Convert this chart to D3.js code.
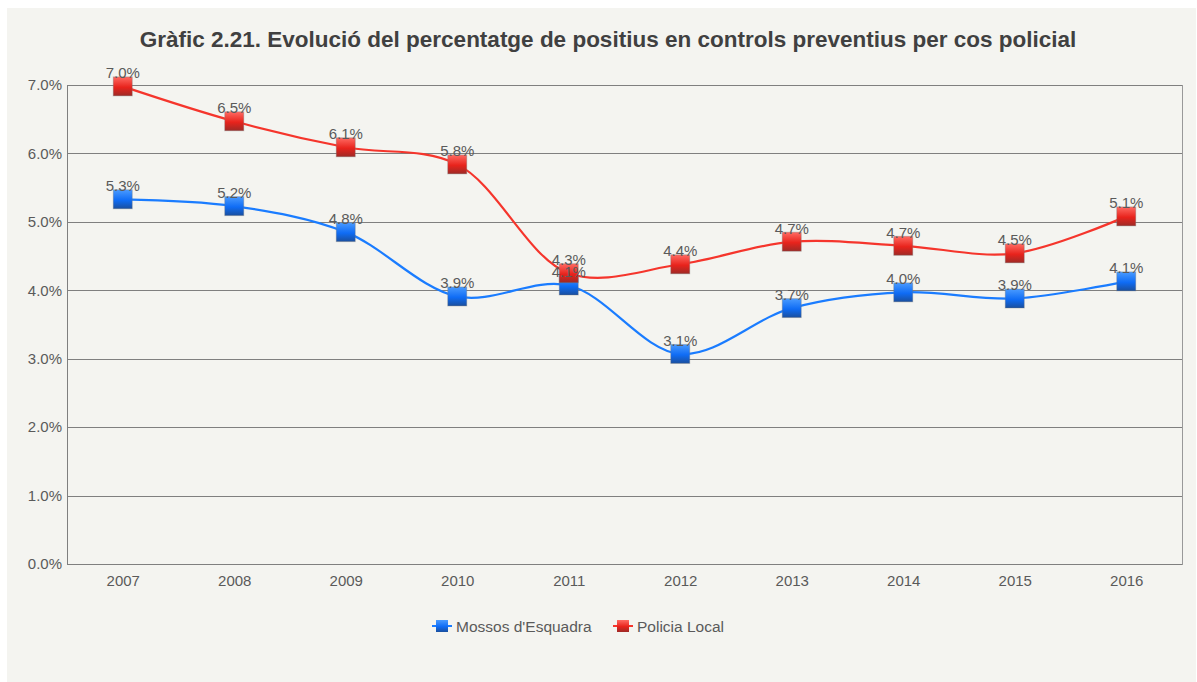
<!DOCTYPE html>
<html lang="en">
<head>
    <meta charset="UTF-8">
    <title>Gràfic 2.21</title>
    <script src="https://d3js.org/d3.v7.min.js"></script>
    <style>
        body { margin: 0; background: #fff; }
        svg { display: block; font-family: 'Liberation Sans', Arial, sans-serif; }
    </style>
</head>
<body>
    <div id="chart"></div>
    <script>
        // data
        var years = ['2007', '2008', '2009', '2010', '2011', '2012', '2013', '2014', '2015', '2016'];
        var mossos = [5.33, 5.23, 4.85, 3.91, 4.07, 3.07, 3.74, 3.97, 3.88, 4.13];
        var policia = [6.98, 6.47, 6.09, 5.84, 4.25, 4.38, 4.71, 4.65, 4.54, 5.08];
        var yTicks = [0, 1, 2, 3, 4, 5, 6, 7];
        var seriesNames = ["Mossos d'Esquadra", 'Policia Local'];

        var width = 1197, height = 682;
        var plotLeft = 67, plotRight = 1182, plotTop = 85, plotBottom = 564;

        var svg = d3.select('#chart').append('svg')
            .attr('width', width)
            .attr('height', height);

        // gradients for the square markers
        var defs = svg.append('defs');
        var grads = [
            { id: 'gBlue', light: '#4a9bff', mid: '#0f6cf5', dark: '#1a4f9e' },
            { id: 'gRed', light: '#ff6b63', mid: '#e8231c', dark: '#9e2a26' }
        ];
        grads.forEach(function (g) {
            var lg = defs.append('linearGradient').attr('id', g.id)
                .attr('x1', 0).attr('y1', 0).attr('x2', 0).attr('y2', 1);
            lg.append('stop').attr('offset', '0%').attr('stop-color', g.light);
            lg.append('stop').attr('offset', '55%').attr('stop-color', g.mid);
            lg.append('stop').attr('offset', '100%').attr('stop-color', g.dark);
        });

        // panel
        svg.append('rect')
            .attr('x', 7).attr('y', 8)
            .attr('width', 1189).attr('height', 674)
            .attr('fill', '#f4f4f0');

        svg.append('text')
            .attr('x', 608).attr('y', 47)
            .attr('text-anchor', 'middle')
            .style('font-size', '22.5px')
            .style('font-weight', 'bold')
            .attr('fill', '#404040')
            .text('Gràfic 2.21. Evolució del percentatge de positius en controls preventius per cos policial');

        var x = d3.scalePoint().domain(years).range([plotLeft, plotRight]).padding(0.5);
        var y = d3.scaleLinear().domain([0, 7]).range([plotBottom, plotTop]);

        // grid lines
        svg.append('g').selectAll('line')
            .data(yTicks)
            .enter().append('line')
            .attr('x1', plotLeft).attr('x2', plotRight)
            .attr('y1', function (d) { return Math.round(y(d)) + 0.5; })
            .attr('y2', function (d) { return Math.round(y(d)) + 0.5; })
            .attr('stroke', '#7f7f7f')
            .attr('stroke-width', 1);

        // frame sides
        svg.append('line')
            .attr('x1', plotLeft + 0.5).attr('x2', plotLeft + 0.5)
            .attr('y1', plotTop).attr('y2', plotBottom + 1)
            .attr('stroke', '#7f7f7f');
        svg.append('line')
            .attr('x1', plotRight + 0.5).attr('x2', plotRight + 0.5)
            .attr('y1', plotTop).attr('y2', plotBottom + 1)
            .attr('stroke', '#999');

        // axes
        var yAxis = d3.axisLeft(y).tickValues(yTicks).tickSize(0).tickPadding(5)
            .tickFormat(function (d) { return d.toFixed(1) + '%'; });
        var gy = svg.append('g').attr('transform', 'translate(' + plotLeft + ',0)').call(yAxis);
        gy.select('.domain').remove();
        gy.selectAll('text').style('font-size', '15px').attr('fill', '#5a5a5a')
            .style('font-family', "'Liberation Sans', Arial, sans-serif");

        var xAxis = d3.axisBottom(x).tickSize(0).tickPadding(11);
        var gx = svg.append('g').attr('transform', 'translate(0,' + plotBottom + ')').call(xAxis);
        gx.select('.domain').remove();
        gx.selectAll('text').style('font-size', '15px').attr('fill', '#5a5a5a')
            .style('font-family', "'Liberation Sans', Arial, sans-serif");

        var series = [
            { name: seriesNames[0], values: mossos, color: '#1a7cff', grad: 'gBlue' },
            { name: seriesNames[1], values: policia, color: '#f5352c', grad: 'gRed' }
        ];

        var line = d3.line()
            .x(function (d, i) { return x(years[i]); })
            .y(function (d) { return y(d); })
            .curve(d3.curveCatmullRom.alpha(0.5));

        series.forEach(function (s) {
            svg.append('path')
                .datum(s.values)
                .attr('d', line)
                .attr('fill', 'none')
                .attr('stroke', s.color)
                .attr('stroke-width', 2.2);
        });

        var size = 19;
        series.forEach(function (s) {
            svg.append('g').selectAll('rect')
                .data(s.values)
                .enter().append('rect')
                .attr('x', function (d, i) { return x(years[i]) - size / 2; })
                .attr('y', function (d) { return y(d) - size / 2; })
                .attr('width', size).attr('height', size)
                .attr('fill', 'url(#' + s.grad + ')')
                .attr('stroke', 'rgba(120,120,120,0.35)')
                .attr('stroke-width', 1);
        });

        series.forEach(function (s) {
            svg.append('g').selectAll('text')
                .data(s.values)
                .enter().append('text')
                .attr('x', function (d, i) { return x(years[i]); })
                .attr('y', function (d) { return y(d) - 8; })
                .attr('text-anchor', 'middle')
                .style('font-size', '15px')
                .attr('fill', '#5a5a5a')
                .text(function (d) { return d.toFixed(1) + '%'; });
        });

        // legend
        var legendX = [432, 613];
        var legend = svg.selectAll('.legend')
            .data(series)
            .enter().append('g')
            .attr('class', 'legend')
            .attr('transform', function (d, i) { return 'translate(' + legendX[i] + ',626)'; });
        legend.append('line')
            .attr('x1', 0).attr('x2', 20)
            .attr('stroke', function (d) { return d.color; })
            .attr('stroke-width', 2);
        legend.append('rect')
            .attr('x', 4).attr('y', -6)
            .attr('width', 12).attr('height', 12)
            .attr('fill', function (d) { return 'url(#' + d.grad + ')'; });
        legend.append('text')
            .attr('x', 24).attr('y', 5.5)
            .style('font-size', '15.5px')
            .attr('fill', '#5a5a5a')
            .text(function (d) { return d.name; });
    </script>
</body>
</html>
